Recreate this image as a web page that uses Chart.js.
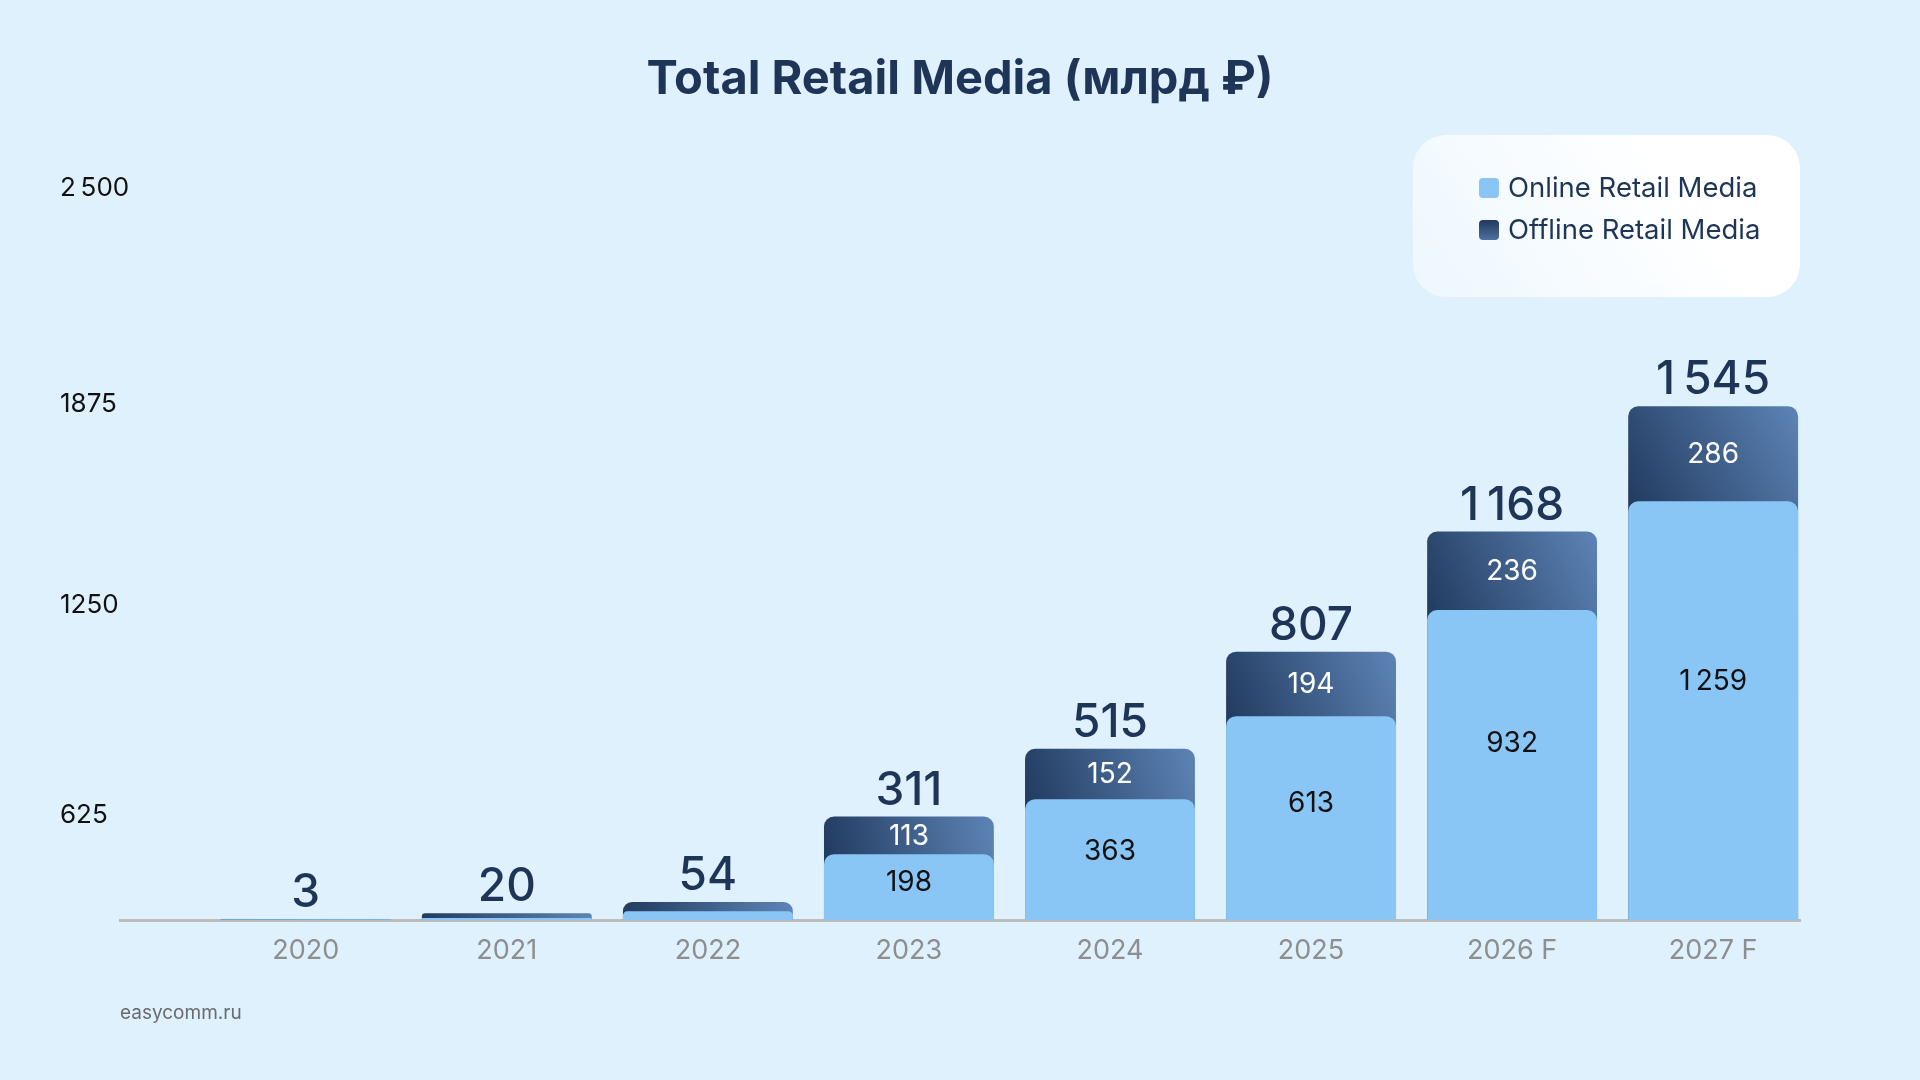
<!DOCTYPE html>
<html lang="ru">
<head>
<meta charset="utf-8">
<title>Total Retail Media</title>
<script src="https://cdn.jsdelivr.net/npm/chart.js@4.4.1/dist/chart.umd.min.js"></script>
<style>
  html, body { margin: 0; padding: 0; background: #dff1fd; }
  #wrap { position: relative; width: 1920px; height: 1080px; }
</style>
</head>
<body>
<div id="wrap"><canvas id="retail_plot"></canvas></div>
<script>
// values (млрд ₽)
const years = ['2020', '2021', '2022', '2023', '2024', '2025', '2026 F', '2027 F'];
const online = [2, 6, 26, 198, 363, 613, 932, 1259];
const offline = [1, 14, 28, 113, 152, 194, 236, 286];
// the y labels sit where the picture puts them
const yTickValues = [314, 948, 1552, 2200];
const yTickLabels = ['625', '1250', '1875', '2\u202F500'];

const totals = online.map((v, i) => v + offline[i]);
const BAR_PCT = 0.845;
const NAVY = '#1f3557';

Chart.defaults.font.family = 'Inter';

function fmt(v) {
  return String(v).replace(/\B(?=(\d{3})+(?!\d))/g, '\u202F');
}

function offlineFill(ctx) {
  const chart = ctx.chart;
  if (!chart.chartArea || ctx.dataIndex === undefined) return '#34507a';
  const xs = chart.scales.x, ys = chart.scales.y;
  const i = ctx.dataIndex;
  const cx = xs.getPixelForValue(i);
  const half = (xs.getPixelForValue(1) - xs.getPixelForValue(0)) * BAR_PCT / 2;
  const top = ys.getPixelForValue(totals[i]);
  const bottom = ys.getPixelForValue(online[i]);
  const g = chart.ctx.createLinearGradient(cx - half, bottom, cx + half, top);
  g.addColorStop(0, '#223b60');
  g.addColorStop(1, '#5d84b6');
  return g;
}

const barLabels = {
  id: 'barLabels',
  afterDatasetsDraw(chart) {
    const ctx = chart.ctx;
    const onMeta = chart.getDatasetMeta(0);
    const offMeta = chart.getDatasetMeta(1);
    ctx.save();
    ctx.textAlign = 'center';
    onMeta.data.forEach((bar, i) => {
      const whole = offMeta.data[i];
      ctx.fillStyle = NAVY;
      ctx.font = '500 46px Inter';
      ctx.textBaseline = 'alphabetic';
      ctx.fillText(fmt(totals[i]), whole.x, whole.y - 12);

      const onH = bar.base - bar.y;
      const offH = bar.y - whole.y;
      ctx.font = '400 28px Inter';
      ctx.textBaseline = 'middle';
      if (offH > 28) {
        ctx.fillStyle = '#ffffff';
        ctx.fillText(fmt(offline[i]), whole.x, (whole.y + bar.y) / 2 + 1);
      }
      if (onH > 28) {
        ctx.fillStyle = '#111111';
        ctx.fillText(fmt(online[i]), bar.x, bar.base - onH * 0.57);
      }
    });
    ctx.restore();
  }
};

const legendBox = {
  id: 'legendBox',
  afterDraw(chart) {
    const ctx = chart.ctx;
    const a = chart.chartArea;
    const w = 387, h = 162;
    const x = a.right - w, y = 135;
    ctx.save();
    const bg = ctx.createLinearGradient(x, y + h, x + w * 0.6, y);
    bg.addColorStop(0, '#edf7fe');
    bg.addColorStop(1, '#ffffff');
    ctx.fillStyle = bg;
    ctx.beginPath();
    ctx.roundRect(x, y, w, h, 33);
    ctx.fill();

    const rows = [y + 53, y + 95];
    chart.data.datasets.forEach((ds, i) => {
      const cy = rows[i];
      let fill = '#8ac6f5';
      if (i === 1) {
        fill = ctx.createLinearGradient(0, cy - 10, 0, cy + 10);
        fill.addColorStop(0, '#21385b');
        fill.addColorStop(1, '#4d72a2');
      }
      ctx.fillStyle = fill;
      ctx.beginPath();
      ctx.roundRect(x + 66, cy - 10, 20, 20, 4);
      ctx.fill();
      ctx.fillStyle = NAVY;
      ctx.font = '400 27.5px Inter';
      ctx.textAlign = 'left';
      ctx.textBaseline = 'middle';
      ctx.fillText(ds.label, x + 95, cy + 1);
    });
    ctx.restore();
  }
};

new Chart(document.getElementById('retail_plot'), {
  type: 'bar',
  data: {
    datasets: [
      {
        label: 'Online Retail Media',
        data: online.map((v, i) => ({x: i, y: v})),
        backgroundColor: '#8ac6f5',
        borderRadius: 10,
        borderSkipped: 'bottom',
        grouped: false,
        barPercentage: BAR_PCT,
        categoryPercentage: 1
      },
      {
        label: 'Offline Retail Media',
        data: totals.map((v, i) => ({x: i, y: v})),
        backgroundColor: offlineFill,
        borderRadius: 10,
        borderSkipped: 'bottom',
        grouped: false,
        barPercentage: BAR_PCT,
        categoryPercentage: 1
      }
    ]
  },
  options: {
    responsive: true,
    maintainAspectRatio: false,
    animation: false,
    layout: {padding: {left: 60, right: 120, top: 0, bottom: 0}},
    plugins: {
      legend: {display: false},
      tooltip: {enabled: false},
      title: {
        display: true,
        text: 'Total Retail Media (млрд ₽)',
        color: NAVY,
        fullSize: false,
        font: {size: 47, weight: '700'},
        padding: {top: 51.8, bottom: 47}
      },
      subtitle: {
        display: true,
        text: 'easycomm.ru',
        position: 'bottom',
        align: 'start',
        fullSize: false,
        color: '#6b6b6b',
        font: {size: 19},
        padding: {top: 0, bottom: 55}
      }
    },
    scales: {
      x: {
        type: 'linear',
        offset: false,
        min: -0.924,
        max: 7.432,
        grid: {display: false, drawTicks: false},
        border: {display: true, color: '#bdbdbd', width: 3},
        afterBuildTicks: (s) => { s.ticks = years.map((_, i) => ({value: i})); },
        afterFit: (s) => { s.height = 82.2; },
        ticks: {
          callback: (v) => years[v],
          color: '#8e8e8e',
          font: {size: 27},
          padding: 15,
          maxRotation: 0,
          autoSkip: false
        }
      },
      y: {
        min: 0,
        max: 2300,
        stacked: false,
        grid: {display: false, drawTicks: false},
        border: {display: false},
        afterBuildTicks: (s) => { s.ticks = yTickValues.map(v => ({value: v})); },
        afterFit: (s) => { s.width = 60; },
        ticks: {
          callback: (v, i) => yTickLabels[i],
          color: '#111111',
          font: {size: 26},
          mirror: true,
          crossAlign: 'near',
          padding: -60
        }
      }
    }
  },
  plugins: [barLabels, legendBox]
});
</script>
</body>
</html>
